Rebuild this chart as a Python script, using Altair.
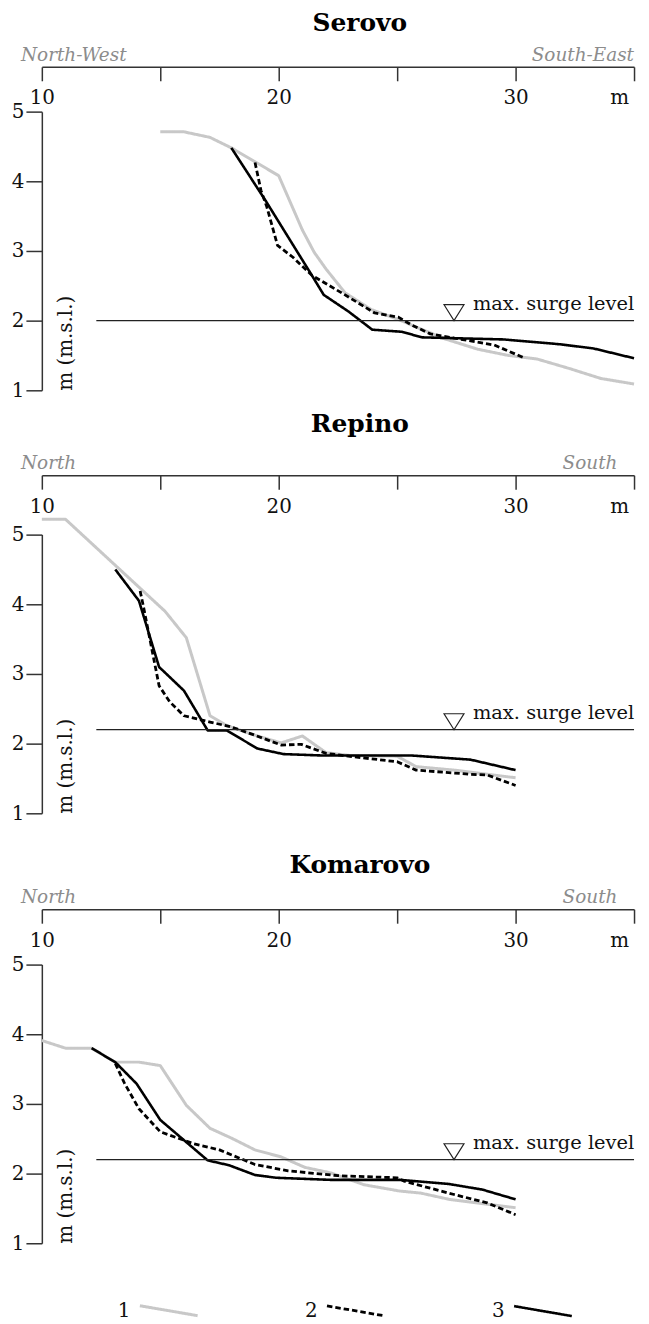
import altair as alt
import pandas as pd

# ---------------- data ----------------
SITES = ["Serovo", "Repino", "Komarovo"]
DIR_LEFT = ["North-West", "North", "North"]
DIR_RIGHT = ["South-East", "South", "South"]
SURGE_LEVEL = [2.0, 2.2, 2.2]
SURGE_FROM = 12.3
SURGE_TO = 35.0
MARKER_AT = 27.4
SURGE_LABEL = "max. surge level"
SERIES = ["1", "2", "3"]
X_TICKS = [10, 15, 20, 25, 30, 35]
Y_TICKS = [1, 1.5, 2, 2.5, 3, 3.5, 4, 4.5, 5]

# Serovo
serovo_x1 = [15.0, 16.0, 17.1, 18.0, 20.0, 21.0, 21.5, 22.0, 22.8, 23.9, 25.1, 26.0, 27.0, 28.4, 29.7, 30.9, 32.3, 33.6, 35.0]
serovo_y1 = [4.71, 4.71, 4.63, 4.48, 4.08, 3.30, 2.98, 2.74, 2.40, 2.16, 2.01, 1.88, 1.74, 1.59, 1.50, 1.45, 1.31, 1.17, 1.09]
serovo_x2 = [19.0, 19.25, 19.5, 19.95, 20.6, 21.4, 22.7, 24.05, 25.05, 25.6, 26.4, 27.4, 29.1, 30.4]
serovo_y2 = [4.27, 3.87, 3.63, 3.08, 2.91, 2.65, 2.39, 2.11, 2.05, 1.94, 1.81, 1.75, 1.65, 1.46]
serovo_x3 = [18.0, 19.45, 21.4, 21.9, 22.95, 23.95, 25.2, 26.05, 27.2, 29.5, 31.9, 33.3, 35.0]
serovo_y3 = [4.48, 3.72, 2.65, 2.37, 2.13, 1.87, 1.84, 1.76, 1.75, 1.73, 1.66, 1.60, 1.46]

# Repino
repino_x1 = [10.0, 11.0, 15.2, 16.1, 17.1, 17.8, 19.0, 20.1, 21.0, 22.0, 23.0, 25.0, 25.8, 27.4, 30.0]
repino_y1 = [5.22, 5.22, 3.90, 3.52, 2.40, 2.26, 2.12, 2.01, 2.11, 1.87, 1.83, 1.82, 1.67, 1.62, 1.51]
repino_x2 = [14.15, 14.3, 14.7, 14.95, 15.4, 16.0, 17.1, 18.0, 19.0, 20.1, 20.95, 22.0, 23.2, 25.0, 25.8, 28.1, 28.8, 30.0]
repino_y2 = [4.19, 3.95, 3.26, 2.83, 2.60, 2.40, 2.31, 2.24, 2.12, 1.98, 1.99, 1.86, 1.81, 1.74, 1.62, 1.56, 1.55, 1.40]
repino_x3 = [13.1, 14.1, 14.95, 16.0, 17.0, 17.8, 19.1, 20.2, 21.8, 25.6, 28.1, 30.0]
repino_y3 = [4.50, 4.05, 3.10, 2.76, 2.19, 2.19, 1.93, 1.85, 1.83, 1.83, 1.77, 1.62]

# Komarovo
komarovo_x1 = [10.0, 11.0, 12.1, 13.1, 14.1, 15.0, 16.1, 17.1, 18.0, 19.0, 20.1, 21.1, 22.2, 23.6, 25.1, 26.0, 27.2, 30.0]
komarovo_y1 = [3.91, 3.80, 3.80, 3.60, 3.60, 3.55, 2.98, 2.65, 2.51, 2.34, 2.24, 2.09, 2.01, 1.84, 1.75, 1.72, 1.63, 1.51]
komarovo_x2 = [13.1, 13.5, 14.1, 15.0, 16.4, 17.5, 19.0, 20.4, 22.5, 25.0, 25.3, 27.4, 28.8, 30.0]
komarovo_y2 = [3.58, 3.29, 2.93, 2.60, 2.43, 2.34, 2.13, 2.04, 1.97, 1.94, 1.89, 1.70, 1.58, 1.41]
komarovo_x3 = [12.1, 13.1, 14.0, 15.0, 16.0, 17.0, 17.9, 19.0, 19.9, 22.2, 25.1, 27.2, 28.6, 30.0]
komarovo_y3 = [3.80, 3.60, 3.29, 2.77, 2.48, 2.19, 2.12, 1.98, 1.94, 1.91, 1.91, 1.85, 1.77, 1.63]

PROFILES = [
    [(serovo_x1, serovo_y1), (serovo_x2, serovo_y2), (serovo_x3, serovo_y3)],
    [(repino_x1, repino_y1), (repino_x2, repino_y2), (repino_x3, repino_y3)],
    [(komarovo_x1, komarovo_y1), (komarovo_x2, komarovo_y2), (komarovo_x3, komarovo_y3)],
]

# ---------------- style / layout ----------------
FONT = "DejaVu Serif"
INK = "#111111"
AXC = "#333333"
GRAY = "#c8c8c8"
COLORS = [GRAY, "#000000", "#000000"]
DASHES = [[1, 0], [5.5, 3], [1, 0]]
WIDTHS = [3.0, 2.6, 2.8]
W = 595
SPAN = 280
PANEL_H = [280, 287, 280]
AXIS_GAP = [45, 59.7, 55.6]
TITLE_OFF = [10, 17, 10]
RIGHT_INSET = [0, 16.7, 16.7]

legend = alt.Legend(
    title=None, orient="none", legendX=97, legendY=1174, direction="horizontal",
    symbolType="M-1,-0.172L1,0.172", symbolSize=3364, symbolStrokeWidth=3,
    labelFont=FONT, labelFontSize=20, labelColor=INK, labelAlign="right",
    labelOffset={"expr": "-69"}, columnPadding=101,
)


def panel(i):
    rows = []
    for s, (xs_, ys_) in zip(SERIES, PROFILES[i]):
        for xv, yv in zip(xs_, ys_):
            rows.append({"series": s, "x": xv, "y": yv})
    df = pd.DataFrame(rows)
    H = PANEL_H[i]
    gap = AXIS_GAP[i]
    xs = alt.Scale(domain=[10, 35], nice=False, zero=False)
    ys = alt.Scale(domain=[1, 5], nice=False, zero=False, range=[SPAN, 0])

    x_axis = alt.Axis(
        orient="bottom", offset=-(H + gap), values=X_TICKS,
        labelExpr="datum.value % 10 == 0 ? format(datum.value, 'd') : ''",
        labelOverlap=False, labelFlush=False,
        tickSize=14, tickWidth=1.5, tickColor=AXC,
        domainColor=AXC, domainWidth=1.5, grid=False,
        labelFont=FONT, labelFontSize=20, labelColor=INK,
        labelPadding=23, labelBaseline="alphabetic",
        title="m", titleFont=FONT, titleFontSize=20, titleFontWeight="normal",
        titleColor=INK, titleX=580, titleY=37, titleBaseline="alphabetic",
        titleAlign="center",
    )
    y_axis = alt.Axis(
        values=Y_TICKS, labelExpr="datum.value % 1 == 0 ? format(datum.value, 'd') : ''",
        labelOverlap=False, labelFlush=False,
        tickSize={"condition": {"test": "datum.value % 1 != 0", "value": 8}, "value": 16},
        tickWidth=1.5, tickColor=AXC, domainColor=AXC, domainWidth=1.5, grid=False,
        labelFont=FONT, labelFontSize=20, labelColor=INK, labelPadding=2,
        title="m (m.s.l.)", titleFont=FONT, titleFontSize=20, titleFontWeight="normal",
        titleColor=INK, titleAngle=270, titleX=30, titleY=SPAN,
        titleAlign="left", titleBaseline="alphabetic",
    )

    lines = alt.Chart(df).mark_line(strokeJoin="round").encode(
        x=alt.X("x:Q", scale=xs, axis=x_axis),
        y=alt.Y("y:Q", scale=ys, axis=y_axis),
        color=alt.Color("series:N", scale=alt.Scale(domain=SERIES, range=COLORS), legend=legend),
        strokeDash=alt.StrokeDash("series:N", scale=alt.Scale(domain=SERIES, range=DASHES), legend=legend),
        strokeWidth=alt.StrokeWidth("series:O", scale=alt.Scale(domain=SERIES, range=WIDTHS), legend=None),
    )

    sdf = pd.DataFrame({
        "x": [SURGE_FROM], "x2": [SURGE_TO], "y": [SURGE_LEVEL[i]],
        "m": [MARKER_AT], "label": [SURGE_LABEL],
    })
    rule = alt.Chart(sdf).mark_rule(color="#222222", strokeWidth=1.2).encode(
        x=alt.X("x:Q", scale=xs), x2="x2:Q", y=alt.Y("y:Q", scale=ys)
    )
    tri = alt.Chart(sdf).mark_point(
        shape="M-1,-1.6L1,-1.6L0,0Z", size=400, filled=False, color="#222222",
        strokeWidth=1.2, opacity=1,
    ).encode(x=alt.X("m:Q", scale=xs), y=alt.Y("y:Q", scale=ys))
    txt = alt.Chart(sdf).mark_text(
        align="left", baseline="alphabetic", dx=19, dy=-11,
        font=FONT, fontSize=19.5, color=INK,
    ).encode(x=alt.X("m:Q", scale=xs), y=alt.Y("y:Q", scale=ys), text="label:N")

    ddf = pd.DataFrame({"left": [DIR_LEFT[i]], "right": [DIR_RIGHT[i]]})
    dleft = alt.Chart(ddf).mark_text(
        align="left", baseline="alphabetic", font=FONT, fontSize=18.5,
        fontStyle="italic", color="#8c8c8c",
    ).encode(x=alt.value(-21), y=alt.value(-(gap + 6)), text="left:N")
    dright = alt.Chart(ddf).mark_text(
        align="right", baseline="alphabetic", font=FONT, fontSize=18.5,
        fontStyle="italic", color="#8c8c8c",
    ).encode(x=alt.value(W - RIGHT_INSET[i]), y=alt.value(-(gap + 6)), text="right:N")

    return alt.layer(lines, rule, tri, txt, dleft, dright).properties(
        width=W, height=H,
        title=alt.TitleParams(
            SITES[i], font=FONT, fontSize=25, fontWeight="bold", color="#000000",
            anchor="middle", dx=22, offset=TITLE_OFF[i],
        ),
    )


chart = alt.vconcat(
    *[panel(i) for i in range(3)], spacing=145, bounds="flush"
).configure_view(stroke=None).properties(
    padding={"left": 3, "top": 0, "right": 5, "bottom": 0}
)

chart.save("out.html", embed_options={"renderer": "svg", "actions": False})
